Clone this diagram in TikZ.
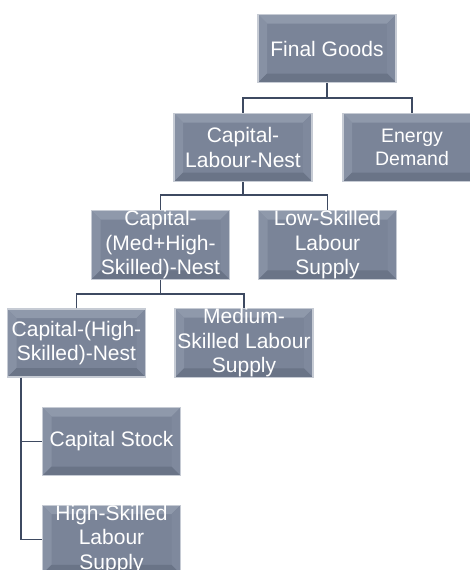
\documentclass[tikz,border=0pt]{standalone}
\usepackage{fontspec}
\setmainfont{Liberation Sans}
\definecolor{boxface}{HTML}{7A8498}
\definecolor{bevtop}{HTML}{8F99AB}
\definecolor{bevleft}{HTML}{8791A4}
\definecolor{bevright}{HTML}{7F899D}
\definecolor{bevbottom}{HTML}{6A7487}
\definecolor{boxrim}{HTML}{C6CBD4}
\definecolor{linkcol}{HTML}{3E4A61}
\tikzset{
  nestbox/.style={
    rectangle, fill=boxface, draw=boxrim, line width=1.2pt,
    minimum width=138pt, minimum height=68pt, inner sep=0pt,
    text=white, align=center, font=\fontsize{21}{24.5}\selectfont,
    path picture={
      \def\bv{9pt}
      \fill[bevtop] (path picture bounding box.north west) -- (path picture bounding box.north east)
        -- ([shift={(-\bv,-\bv)}]path picture bounding box.north east)
        -- ([shift={(\bv,-\bv)}]path picture bounding box.north west) -- cycle;
      \fill[bevleft] (path picture bounding box.north west) -- (path picture bounding box.south west)
        -- ([shift={(\bv,\bv)}]path picture bounding box.south west)
        -- ([shift={(\bv,-\bv)}]path picture bounding box.north west) -- cycle;
      \fill[bevright] (path picture bounding box.north east) -- (path picture bounding box.south east)
        -- ([shift={(-\bv,\bv)}]path picture bounding box.south east)
        -- ([shift={(-\bv,-\bv)}]path picture bounding box.north east) -- cycle;
      \fill[bevbottom] (path picture bounding box.south west) -- (path picture bounding box.south east)
        -- ([shift={(-\bv,\bv)}]path picture bounding box.south east)
        -- ([shift={(\bv,\bv)}]path picture bounding box.south west) -- cycle;
    }
  },
  link/.style={draw=linkcol, line width=1.6pt}
}
\begin{document}
\begin{tikzpicture}[x=1pt,y=-1pt]
  \useasboundingbox (0,0) rectangle (470,570);
  \begin{scope}
  \clip (0,0) rectangle (470,570);
  % boxes
  \node[nestbox] (fg)  at (327,48.5)  {Final Goods};
  \node[nestbox] (cl)  at (243,147.5) {Capital-\\Labour-Nest};
  \node[nestbox, font=\fontsize{19.5}{23}\selectfont] (ed) at (412,147.5) {Energy\\Demand};
  \node[nestbox] (cmh) at (160.5,245) {Capital-\\(Med+High-\\Skilled)-Nest};
  \node[nestbox] (ls)  at (327.5,245) {Low-Skilled\\Labour\\Supply};
  \node[nestbox] (chs) at (76.5,343)  {Capital-(High-\\Skilled)-Nest};
  \node[nestbox] (ms)  at (244,343)   {Medium-\\Skilled Labour\\Supply};
  \node[nestbox] (cs)  at (111.5,441.5) {Capital Stock};
  \node[nestbox] (hs)  at (111.5,539.5) {High-Skilled\\Labour\\Supply};
  % bus points of the tree
  \coordinate (b1) at (327,98);
  \coordinate (b2) at (243,195);
  \coordinate (b3) at (160.5,294);
  \coordinate (v)  at ([xshift=14pt]chs.south west);
  % connectors
  \draw[link] (fg.south) -- (b1);
  \draw[link] (cl.north) |- (b1) -| (ed.north);
  \draw[link] (cl.south) -- (b2);
  \draw[link] (cmh.north) |- (b2) -| (ls.north);
  \draw[link] (cmh.south) -- (b3);
  \draw[link] (chs.north) |- (b3) -| (ms.north);
  \draw[link] (v) |- (cs.west);
  \draw[link] (v) |- (hs.west);
  \end{scope}
\end{tikzpicture}
\end{document}
